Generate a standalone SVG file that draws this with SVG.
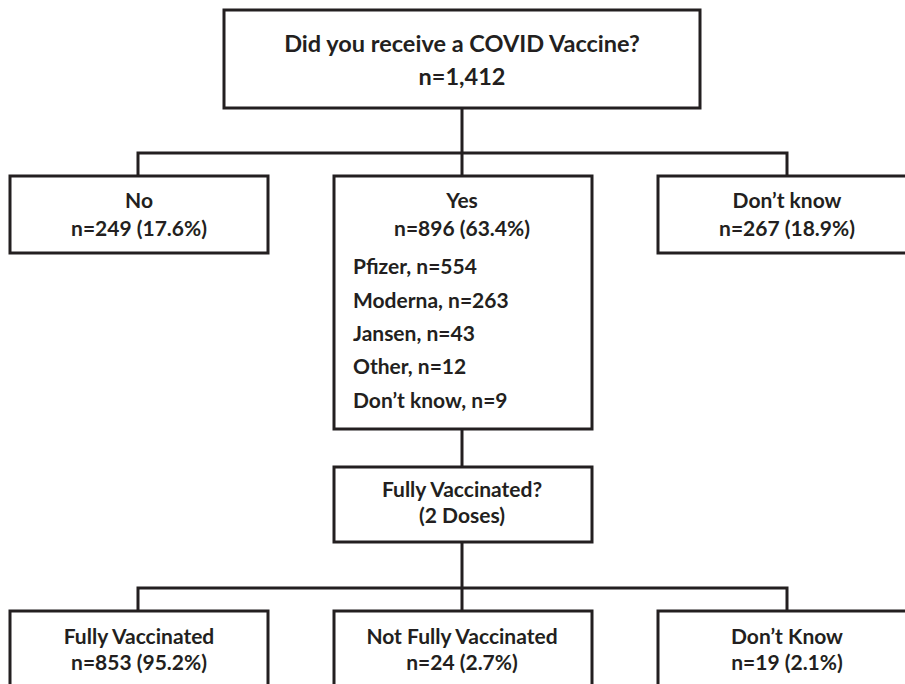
<svg xmlns="http://www.w3.org/2000/svg" width="905" height="684" viewBox="0 0 905 684">
<style>
.box{fill:#fff;stroke:#231f20;stroke-width:3}
.ln{fill:none;stroke:#231f20;stroke-width:3}
text{font-family:Lato,"Open Sans","Liberation Sans",sans-serif;font-weight:bold;fill:#231f20}
.t{font-size:23.5px;text-anchor:middle}
.m{font-size:21px;text-anchor:middle}
.l{font-size:21px}
</style>
<rect width="905" height="684" fill="#fff"/>
<g id="connectors">
<path class="ln" d="M462 108V153M138 176V153H787V176M462 153V176"/>
<path class="ln" d="M462 429V467"/>
<path class="ln" d="M462 542V588M138 611V588H787V611M462 588V611"/>
</g>
<g id="q1">
<rect class="box" x="224" y="10" width="476" height="98"/>
<text class="t" x="462" y="52">Did you receive a COVID Vaccine?</text>
<text class="t" x="462" y="85">n=1,412</text>
</g>
<g id="no">
<rect class="box" x="10" y="176" width="258" height="77"/>
<text class="m" x="139" y="208">No</text>
<text class="m" x="139" y="236">n=249 (17.6%)</text>
</g>
<g id="yes">
<rect class="box" x="334" y="176" width="258" height="253"/>
<text class="m" x="462" y="208">Yes</text>
<text class="m" x="462" y="236">n=896 (63.4%)</text>
<text class="l" x="353" y="274">Pfizer, n=554</text>
<text class="l" x="353" y="308">Moderna, n=263</text>
<text class="l" x="353" y="341">Jansen, n=43</text>
<text class="l" x="353" y="374">Other, n=12</text>
<text class="l" x="353" y="408">Don’t know, n=9</text>
</g>
<g id="dk">
<rect class="box" x="658" y="176" width="260" height="77"/>
<text class="m" x="787" y="208">Don’t know</text>
<text class="m" x="787" y="236">n=267 (18.9%)</text>
</g>
<g id="q2">
<rect class="box" x="334" y="467" width="258" height="75"/>
<text class="m" x="462" y="497">Fully Vaccinated?</text>
<text class="m" x="462" y="523">(2 Doses)</text>
</g>
<g id="fv">
<rect class="box" x="10" y="611" width="258" height="90"/>
<text class="m" x="139" y="644">Fully Vaccinated</text>
<text class="m" x="139" y="670">n=853 (95.2%)</text>
</g>
<g id="nfv">
<rect class="box" x="334" y="611" width="258" height="90"/>
<text class="m" x="462" y="644">Not Fully Vaccinated</text>
<text class="m" x="462" y="670">n=24 (2.7%)</text>
</g>
<g id="dk2">
<rect class="box" x="658" y="611" width="260" height="90"/>
<text class="m" x="787" y="644">Don’t Know</text>
<text class="m" x="787" y="670">n=19 (2.1%)</text>
</g>
</svg>
